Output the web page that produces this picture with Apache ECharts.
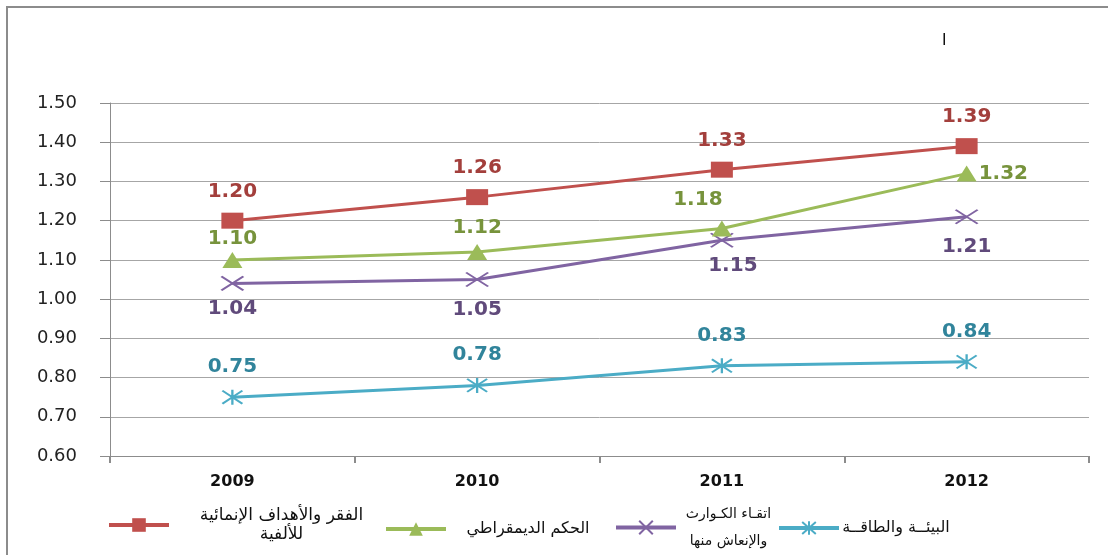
<!DOCTYPE html>
<html>
<head>
<meta charset="utf-8">
<script src="https://cdn.jsdelivr.net/npm/echarts@6/dist/echarts.min.js"></script>
<style>html,body{margin:0;padding:0;background:#fff}#c{width:1108px;height:555px}</style>
</head>
<body>
<div id="c"></div>
<script>
var years = ['2009', '2010', '2011', '2012'];
var povertyMdg = [1.20, 1.26, 1.33, 1.39];
var democraticGov = [1.10, 1.12, 1.18, 1.32];
var crisisRecovery = [1.04, 1.05, 1.15, 1.21];
var envEnergy = [0.75, 0.78, 0.83, 0.84];
var seriesNames = ['الفقر والأهداف الإنمائية\nللألفية', 'الحكم الديمقراطي', 'اتقـاء الكـوارث\nوالإنعاش منها', 'البيئــة والطاقــة'];
var yTicks = { min: 0.6, max: 1.5, step: 0.1 };

var FONT = 'DejaVu Sans';
var chart = echarts.init(document.getElementById('c'), null, { renderer: 'canvas' });

function lbl(color, pos, dist) {
  return { show: true, position: pos, distance: dist, color: color, fontFamily: FONT, fontWeight: 'bold', fontSize: 20,
    formatter: function (p) { return p.value.toFixed(2); } };
}
function withOverrides(values, overrides) {
  return values.map(function (v, i) {
    var o = { value: v };
    if (overrides && overrides[i]) o.label = overrides[i];
    return o;
  });
}

var X_PATH = 'path://M0,0L22,14M22,0L0,14';
var STAR_PATH = 'path://M0,0L20,14M20,0L0,14M10,-1L10,15';

function legendFor(name, left, top, boxW, fontSize, lineHeight) {
  return {
    data: [name], left: left, top: top, orient: 'horizontal', padding: 0,
    itemWidth: 60, itemHeight: 17, itemGap: 5,
    lineStyle: { width: 4 },
    formatter: function (n) { return n.split('\n').map(function (s) { return '{a|' + s + '}'; }).join('\n'); },
    textStyle: { rich: { a: { width: boxW, align: 'center', fontFamily: FONT, fontSize: fontSize, color: '#111', lineHeight: lineHeight } } }
  };
}

var legends = [
  legendFor(seriesNames[0], 107, 507, 215, 17, 19),
  legendFor(seriesNames[1], 384, 521, 154, 16, 20),
  legendFor(seriesNames[2], 614, 507, 95, 14, 27),
  legendFor(seriesNames[3], 777, 520, 104, 16, 20)
];

var option = {
  animation: false,
  backgroundColor: '#fff',
  grid: { left: 110, right: 19, top: 103, bottom: 99, containLabel: false },
  legend: legends,
  graphic: [
    { type: 'rect', shape: { x: 7, y: 7, width: 1120, height: 580 }, style: { fill: 'none', stroke: '#8c8c8c', lineWidth: 2 }, silent: true },
    { type: 'text', left: 942, top: 33, style: { text: 'ا', font: '16px ' + FONT, fill: '#000' }, silent: true }
  ],
  xAxis: {
    type: 'category', data: years, boundaryGap: true,
    axisLine: { show: true, lineStyle: { color: '#8c8c8c', width: 1 } },
    axisTick: { show: true, length: 7, lineStyle: { color: '#8c8c8c', width: 2 } },
    axisLabel: { margin: 18, fontFamily: FONT, fontWeight: 'bold', fontSize: 16, color: '#111' },
    splitLine: { show: false }
  },
  yAxis: {
    type: 'value', min: yTicks.min, max: yTicks.max, interval: yTicks.step,
    axisLine: { show: true, lineStyle: { color: '#8c8c8c', width: 1 } },
    axisTick: { show: true, length: 10, lineStyle: { color: '#8c8c8c' } },
    axisLabel: { margin: 33, fontFamily: FONT, fontSize: 18, color: '#222', formatter: function (v) { return v.toFixed(2); } },
    splitLine: { show: true, lineStyle: { color: '#a6a6a6', width: 1 } }
  },
  series: [
    {
      name: seriesNames[0], type: 'line', data: withOverrides(povertyMdg),
      symbol: 'rect', symbolSize: [22, 16], showAllSymbol: true,
      lineStyle: { color: '#C0504D', width: 3 }, itemStyle: { color: '#C0504D' },
      label: lbl('#A33F3C', 'top', 11), z: 4
    },
    {
      name: seriesNames[1], type: 'line',
      data: withOverrides(democraticGov, [
        { distance: 3 }, { distance: 6 }, { distance: 11, offset: [-24, 0] }, { position: 'right', distance: 2 }
      ]),
      symbol: 'triangle', symbolSize: [20, 16],
      lineStyle: { color: '#9BBB59', width: 3 }, itemStyle: { color: '#9BBB59' },
      label: lbl('#77933C', 'top', 6), z: 3
    },
    {
      name: seriesNames[2], type: 'line',
      data: withOverrides(crisisRecovery, [
        { distance: 8 }, { distance: 12 }, { distance: 8, offset: [11, 0] }, { distance: 12 }
      ]),
      symbol: X_PATH, symbolSize: [22, 14],
      lineStyle: { color: '#8064A2', width: 3 }, itemStyle: { color: '#8064A2', borderColor: '#8064A2', borderWidth: 2 },
      label: lbl('#604A7B', 'bottom', 12), z: 2
    },
    {
      name: seriesNames[3], type: 'line', data: withOverrides(envEnergy),
      symbol: STAR_PATH, symbolSize: [20, 15],
      lineStyle: { color: '#4BACC6', width: 3 }, itemStyle: { color: '#4BACC6', borderColor: '#4BACC6', borderWidth: 2 },
      label: lbl('#31849B', 'top', 12), z: 1
    }
  ]
};
chart.setOption(option);
</script>
</body>
</html>
